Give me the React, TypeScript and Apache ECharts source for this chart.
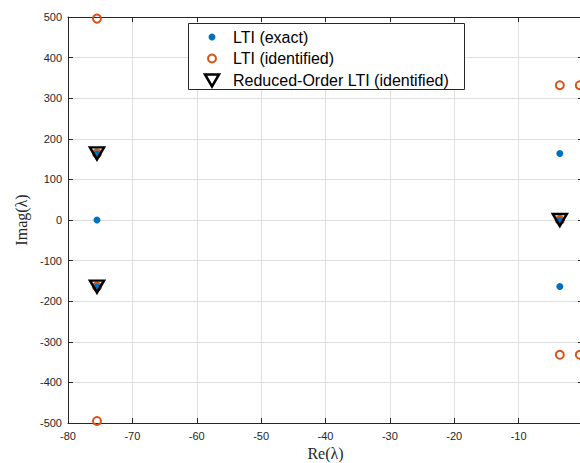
import React, { useEffect, useRef } from "react";
import * as echarts from "echarts";

const exactPoles: [number, number][] = [
  [-75.5, 0], [-75.5, 164], [-75.5, -164], [-3.6, 164], [-3.6, -164], [-3.6, 0],
];
const identifiedPoles: [number, number][] = [
  [-75.5, 496], [-75.5, -495], [-75.5, 164], [-75.5, -164],
  [-3.6, 332], [-3.6, -332], [-3.6, 0], [-0.5, 332], [-0.5, -332],
];
const reducedPoles: [number, number][] = [
  [-75.5, 164], [-75.5, -164], [-3.6, 0],
];
const seriesNames = ["LTI (exact)", "LTI (identified)", "Reduced-Order LTI (identified)"];
const xTicks = { min: -80, max: 0, step: 10 };
const yTicks = { min: -500, max: 500, step: 100 };

const BLUE = "#0072BD";
const ORANGE = "#D95319";
const AX = "#262626";
const GRID = "#dfdfdf";
const SANS = "'Liberation Sans', Arial, Helvetica, sans-serif";
const SERIF = "'Liberation Serif', 'DejaVu Serif', serif";

export default function App() {
  const ref = useRef<HTMLDivElement>(null);
  useEffect(() => {
    if (!ref.current) return;
    const chart = echarts.init(ref.current, undefined, { renderer: "svg" });
    const tick = { show: true, inside: true, length: 5, lineStyle: { color: AX } };
    const line = { show: true, onZero: false, lineStyle: { color: AX, width: 1 } };
    const lx = 212;
    const rows = [37, 58.5, 80];
    const Z = 100;
    chart.setOption({
      animation: false,
      backgroundColor: "#ffffff",
      grid: { left: 68, right: -3, top: 17, bottom: 40, containLabel: false, outerBoundsMode: "none" },
      xAxis: [
        {
          type: "value", min: xTicks.min, max: xTicks.max, interval: xTicks.step, position: "bottom",
          axisLine: line, axisTick: tick,
          axisLabel: { color: AX, fontSize: 11, fontFamily: SANS, margin: 7 },
          splitLine: { show: true, lineStyle: { color: GRID, width: 1 } },
          name: "Re(λ)", nameLocation: "middle", nameGap: 21,
          nameTextStyle: { color: AX, fontSize: 16, fontFamily: SERIF },
        },
        {
          type: "value", min: xTicks.min, max: xTicks.max, interval: xTicks.step, position: "top",
          axisLine: line, axisTick: tick, axisLabel: { show: false }, splitLine: { show: false },
        },
      ],
      yAxis: [
        {
          type: "value", min: yTicks.min, max: yTicks.max, interval: yTicks.step, position: "left",
          axisLine: line, axisTick: tick,
          axisLabel: { color: AX, fontSize: 11, fontFamily: SANS, margin: 6 },
          splitLine: { show: true, lineStyle: { color: GRID, width: 1 } },
          name: "Imag(λ)", nameLocation: "middle", nameGap: 36,
          nameTextStyle: { color: AX, fontSize: 16, fontFamily: SERIF },
        },
        {
          type: "value", min: yTicks.min, max: yTicks.max, interval: yTicks.step, position: "right",
          axisLine: line, axisTick: tick, axisLabel: { show: false }, splitLine: { show: false },
        },
      ],
      series: [
        {
          name: seriesNames[0], type: "scatter", data: exactPoles, symbol: "circle", symbolSize: 7,
          itemStyle: { color: BLUE, opacity: 1 }, z: 3,
        },
        {
          name: seriesNames[1], type: "scatter", data: identifiedPoles, symbol: "circle", symbolSize: 8,
          itemStyle: { color: "rgba(0,0,0,0)", borderColor: ORANGE, borderWidth: 2, opacity: 1 }, z: 4,
        },
        {
          name: seriesNames[2], type: "scatter", data: reducedPoles, symbol: "triangle", symbolRotate: 180,
          symbolSize: [14, 12],
          itemStyle: { color: "rgba(0,0,0,0)", borderColor: "#000000", borderWidth: 2.5, opacity: 1 }, z: 5,
        },
      ],
      graphic: [
        { type: "rect", z: Z, shape: { x: 188.5, y: 23.5, width: 276, height: 66 },
          style: { fill: "#ffffff", stroke: AX, lineWidth: 1 } },
        { type: "circle", z: Z + 1, shape: { cx: lx, cy: rows[0], r: 3.5 }, style: { fill: BLUE } },
        { type: "circle", z: Z + 1, shape: { cx: lx, cy: rows[1], r: 4 }, style: { fill: "none", stroke: ORANGE, lineWidth: 2 } },
        { type: "polygon", z: Z + 1, shape: { points: [[lx - 7, rows[2] - 5.5], [lx + 7, rows[2] - 5.5], [lx, rows[2] + 6.5]] },
          style: { fill: "none", stroke: "#000000", lineWidth: 2.5 } },
        ...seriesNames.map((n, i) => ({
          type: "text", z: Z + 1, x: 233, y: rows[i],
          style: { text: n, fill: "#000000", fontSize: 16, fontFamily: SANS, verticalAlign: "middle", align: "left" },
        })),
      ],
    });
    return () => chart.dispose();
  }, []);
  return (
    <div
      ref={ref}
      style={{ position: "absolute", left: 0, top: 0, width: 580, height: 463, background: "#fff" }}
    />
  );
}
